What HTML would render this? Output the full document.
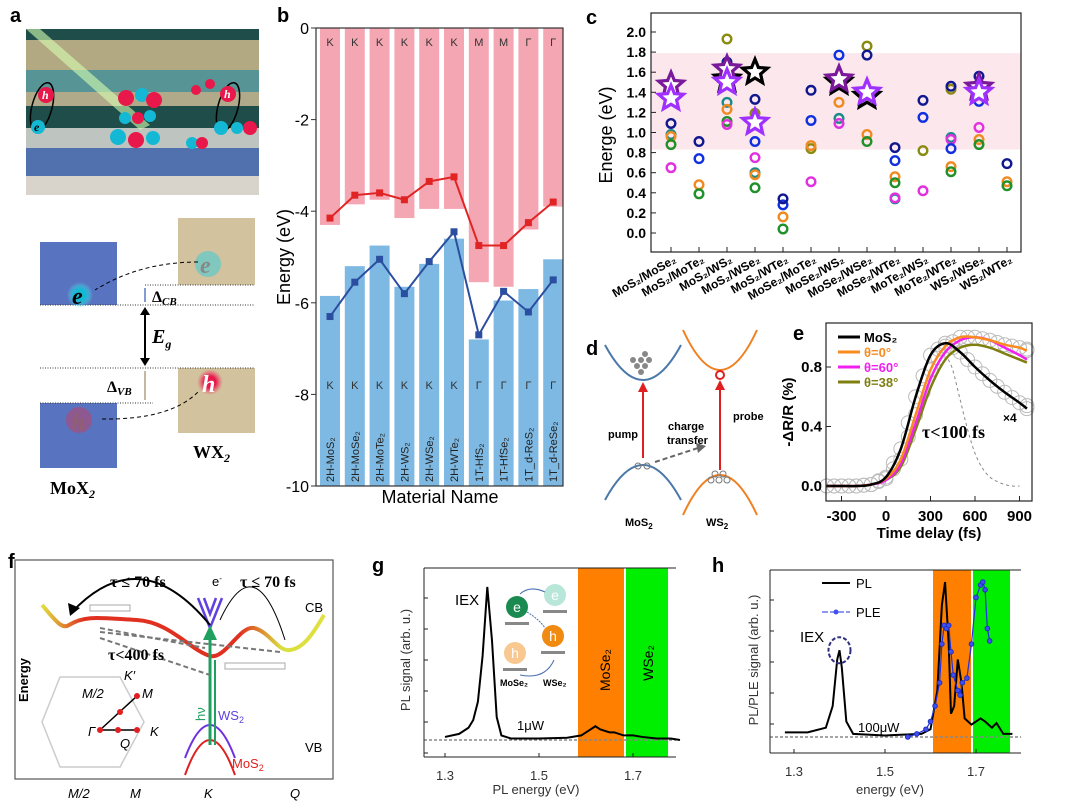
<!DOCTYPE html>
<html><head><meta charset="utf-8"><style>
body{margin:0;background:#fff}
svg{display:block;font-family:"Liberation Sans",sans-serif}
</style></head><body>
<svg id="s" width="1080" height="804" viewBox="0 0 1080 804" xmlns="http://www.w3.org/2000/svg">
<defs>
<radialGradient id="gE"><stop offset="0.45" stop-color="#13b9d4"/><stop offset="1" stop-color="#5ee0f0" stop-opacity="0"/></radialGradient>
<radialGradient id="gH"><stop offset="0.45" stop-color="#e8184a"/><stop offset="1" stop-color="#f05070" stop-opacity="0"/></radialGradient>
<linearGradient id="cbg" x1="0" x2="1"><stop offset="0" stop-color="#e0e040"/><stop offset="0.15" stop-color="#e03020"/><stop offset="0.7" stop-color="#e03020"/><stop offset="0.85" stop-color="#d8e040"/><stop offset="1" stop-color="#e0e040"/></linearGradient>
</defs>
<g font-weight="bold" font-size="20">
<text x="10" y="22">a</text><text x="277" y="22">b</text><text x="586" y="24">c</text><text x="586" y="355">d</text><text x="793" y="340">e</text><text x="8" y="568">f</text><text x="372" y="572">g</text><text x="712" y="572">h</text>
</g>

<g>
<rect x="26" y="29" width="233" height="166" fill="#1e4d4a"/>
<rect x="26" y="40" width="233" height="30" fill="#cdb88c" opacity="0.85"/>
<rect x="26" y="70" width="233" height="22" fill="#7cc4c8" opacity="0.6"/>
<rect x="26" y="92" width="233" height="14" fill="#d6c29a" opacity="0.8"/>
<rect x="26" y="128" width="233" height="20" fill="#e6e2dc" opacity="0.8"/>
<rect x="26" y="148" width="233" height="28" fill="#5a78c0" opacity="0.85"/>
<rect x="26" y="176" width="233" height="19" fill="#d8d4cc"/>
<polygon points="26,29 40,29 150,125 140,130" fill="#d6ffb0" opacity="0.6"/>
<ellipse cx="42" cy="107" rx="10" ry="25" fill="none" stroke="#000" stroke-width="1.5" transform="rotate(15 42 107)"/>
<ellipse cx="228" cy="107" rx="10" ry="25" fill="none" stroke="#000" stroke-width="1.5" transform="rotate(15 228 107)"/>
<g font-style="italic" font-weight="bold" font-family="Liberation Serif" fill="#fff" font-size="12">
<circle cx="46" cy="95" r="8" fill="#e8184a"/><text x="42" y="99">h</text>
<circle cx="38" cy="127" r="7" fill="#13b9d4"/><text x="34" y="131" fill="#000">e</text>
<circle cx="126" cy="98" r="8" fill="#e8184a"/><circle cx="142" cy="95" r="7" fill="#13b9d4"/><circle cx="154" cy="100" r="8" fill="#e8184a"/>
<circle cx="125" cy="118" r="6" fill="#13b9d4"/><circle cx="138" cy="118" r="6" fill="#e8184a"/><circle cx="150" cy="116" r="6" fill="#13b9d4"/>
<circle cx="118" cy="137" r="8" fill="#13b9d4"/><circle cx="136" cy="140" r="8" fill="#e8184a"/><circle cx="153" cy="138" r="7" fill="#13b9d4"/>
<circle cx="228" cy="94" r="8" fill="#e8184a"/><text x="224" y="98">h</text>
<circle cx="221" cy="128" r="7" fill="#13b9d4"/><circle cx="237" cy="128" r="6" fill="#13b9d4"/><circle cx="250" cy="128" r="7" fill="#e8184a"/>
<circle cx="196" cy="90" r="5" fill="#e8184a"/><circle cx="210" cy="84" r="5" fill="#e8184a"/>
<circle cx="192" cy="143" r="6" fill="#13b9d4"/><circle cx="202" cy="143" r="6" fill="#e8184a"/>
</g>
<rect x="40" y="242" width="77" height="63" fill="#5874c0"/>
<rect x="40" y="403" width="77" height="65" fill="#5874c0"/>
<rect x="178" y="218" width="77" height="67" fill="#d2c29e"/>
<rect x="178" y="368" width="77" height="65" fill="#d2c29e"/>
<g stroke="#333" stroke-dasharray="1,1.5" stroke-width="1">
<line x1="145" y1="285" x2="255" y2="285"/><line x1="40" y1="305" x2="255" y2="305"/>
<line x1="40" y1="368" x2="255" y2="368"/><line x1="40" y1="403" x2="153" y2="403"/></g>
<circle cx="80" cy="295" r="13" fill="url(#gE)"/><circle cx="208" cy="264" r="13" fill="#6bc9c4" opacity="0.8"/>
<circle cx="79" cy="420" r="13" fill="#b04870" opacity="0.6"/><circle cx="210" cy="382" r="13" fill="url(#gH)"/>
<g font-family="Liberation Serif" font-style="italic" font-weight="bold" font-size="24">
<text x="72" y="304" fill="#000">e</text><text x="200" y="273" fill="#888">e</text>
<text x="72" y="430" fill="#906070">h</text><text x="202" y="392" fill="#fff">h</text></g>
<path d="M198,262 Q140,262 95,290" fill="none" stroke="#000" stroke-dasharray="4,3"/>
<path d="M102,419 Q170,420 198,392" fill="none" stroke="#000" stroke-dasharray="4,3"/>
<line x1="145" y1="288" x2="145" y2="302" stroke="#5a7ac0" stroke-width="1.5"/>
<line x1="145" y1="309" x2="145" y2="364" stroke="#000" stroke-width="2"/>
<polygon points="140,315 145,307 150,315" fill="#000"/><polygon points="140,358 145,366 150,358" fill="#000"/>
<line x1="145" y1="371" x2="145" y2="400" stroke="#b0a080" stroke-width="1.5"/>
<g font-family="Liberation Serif" font-weight="bold">
<text x="152" y="302" font-size="16">Δ<tspan font-size="11" font-style="italic" dy="3">CB</tspan></text>
<text x="152" y="343" font-size="20" font-style="italic">E<tspan font-size="12" dy="5">g</tspan></text>
<text x="107" y="392" font-size="16">Δ<tspan font-size="11" font-style="italic" dy="3">VB</tspan></text>
<text x="193" y="458" font-size="18">WX<tspan font-size="12" font-style="italic" dy="4">2</tspan></text>
<text x="50" y="494" font-size="18">MoX<tspan font-size="12" font-style="italic" dy="4">2</tspan></text></g>
</g>

<g id="pb"></g>
<g id="pc"></g>

<g>
<path d="M605,345 Q643,415 681,345" fill="none" stroke="#4a78a8" stroke-width="2"/>
<path d="M605,500 Q643,430 681,500" fill="none" stroke="#4a78a8" stroke-width="2"/>
<path d="M683,330 Q720,410 757,330" fill="none" stroke="#f08020" stroke-width="2"/>
<path d="M683,515 Q720,435 757,515" fill="none" stroke="#f08020" stroke-width="2"/>
<g fill="#888"><circle cx="637" cy="366" r="3"/><circle cx="645" cy="366" r="3"/><circle cx="641" cy="360" r="3"/><circle cx="649" cy="360" r="3"/><circle cx="633" cy="360" r="3"/><circle cx="641" cy="372" r="3"/><circle cx="645" cy="354" r="3"/></g>
<g fill="none" stroke="#777"><circle cx="638" cy="466" r="3"/><circle cx="647" cy="466" r="3"/><circle cx="711" cy="480" r="3"/><circle cx="719" cy="480" r="3"/><circle cx="727" cy="480" r="3"/><circle cx="715" cy="474" r="3"/><circle cx="723" cy="474" r="3"/></g>
<line x1="643" y1="458" x2="643" y2="390" stroke="#e02020" stroke-width="2"/><polygon points="638,392 643,382 648,392" fill="#e02020"/>
<line x1="720" y1="470" x2="720" y2="388" stroke="#e02020" stroke-width="2"/><polygon points="715,390 720,380 725,390" fill="#e02020"/>
<circle cx="720" cy="375" r="4" fill="none" stroke="#e02020" stroke-width="2"/>
<line x1="655" y1="462" x2="698" y2="448" stroke="#666" stroke-width="2" stroke-dasharray="5,3"/><polygon points="696,443 706,446 698,453" fill="#666"/>
<g font-size="11" font-weight="bold"><text x="608" y="438">pump</text><text x="733" y="420">probe</text><text x="668" y="430">charge</text><text x="667" y="444">transfer</text>
<text x="625" y="526">MoS<tspan font-size="8" dy="3">2</tspan></text><text x="706" y="526">WS<tspan font-size="8" dy="3">2</tspan></text></g>
</g>

<g id="pe"></g>

<g>
<rect x="15" y="560" width="318" height="219" fill="none" stroke="#555" stroke-width="1.2"/>
<text x="28" y="680" font-size="13" font-weight="bold" transform="rotate(-90 28 680)" text-anchor="middle">Energy</text>
<path d="M42,605 C55,620 62,630 69,625 C85,615 100,618 137,620 C170,622 190,650 210,656 C225,660 240,625 254,628 C270,632 278,652 290,650 C305,648 315,630 324,615" fill="none" stroke="url(#cbg)" stroke-width="4"/>
<path d="M198,598 L210,628 L222,598 M204,598 L210,614 L216,598" fill="none" stroke="#6040e0" stroke-width="2.5"/>
<path d="M185,775 Q210,705 235,775" fill="none" stroke="#e02020" stroke-width="2"/>
<path d="M185,758 Q210,692 235,758" fill="none" stroke="#7030e0" stroke-width="2"/>
<line x1="210" y1="745" x2="210" y2="632" stroke="#20a060" stroke-width="3"/><polygon points="203,640 210,625 217,640" fill="#20a060"/>
<line x1="215" y1="745" x2="215" y2="660" stroke="#20a060" stroke-width="2"/>
<path d="M210,625 Q140,540 72,612" fill="none" stroke="#000" stroke-width="2"/><polygon points="68,603 70,616 80,608" fill="#000"/>
<path d="M220,620 Q255,545 285,640" fill="none" stroke="#000" stroke-width="1"/>
<g stroke="#777" stroke-width="2" stroke-dasharray="5,3"><line x1="100" y1="628" x2="205" y2="648"/><line x1="100" y1="632" x2="280" y2="652"/><line x1="100" y1="638" x2="210" y2="675"/></g>
<rect x="90" y="605" width="40" height="6" fill="none" stroke="#aaa"/><rect x="225" y="663" width="60" height="6" fill="none" stroke="#aaa"/>
<polygon points="96,677 120,677 144,722 120,767 60,767 42,722 60,677" fill="none" stroke="#ccc" stroke-width="1.5"/>
<g stroke="#000" stroke-width="1.5"><line x1="100" y1="730" x2="137" y2="730"/><line x1="100" y1="730" x2="137" y2="696"/></g>
<g fill="#e02020"><circle cx="100" cy="730" r="3"/><circle cx="137" cy="730" r="3"/><circle cx="137" cy="696" r="3"/><circle cx="120" cy="712" r="3"/><circle cx="118" cy="730" r="3"/></g>
<g font-family="Liberation Serif" font-weight="bold" font-size="16"><text x="110" y="587">τ ≤ 70 fs</text><text x="240" y="587">τ ≤ 70 fs</text><text x="108" y="660">τ&lt;400 fs</text></g>
<g font-size="13"><text x="212" y="586">e<tspan font-size="8" dy="-5">-</tspan></text><text x="305" y="612">CB</text><text x="305" y="752">VB</text>
<text x="188" y="720" fill="#20a060" transform="rotate(-90 197 712)">hν</text>
<text x="218" y="720" fill="#6040e0">WS<tspan font-size="9" dy="3">2</tspan></text><text x="232" y="768" fill="#e02020">MoS<tspan font-size="9" dy="3">2</tspan></text>
<g font-style="italic"><text x="124" y="680">K′</text><text x="82" y="698">M/2</text><text x="142" y="698">M</text><text x="88" y="736">Γ</text><text x="150" y="736">K</text><text x="120" y="748">Q</text>
<text x="68" y="798">M/2</text><text x="130" y="798">M</text><text x="204" y="798">K</text><text x="290" y="798">Q</text></g></g>
</g>

<g id="pg"></g>
<g id="ph"></g>
</svg>
<script>
const NS='http://www.w3.org/2000/svg';
function mk(p,tag,at,txt){const e=document.createElementNS(NS,tag);for(const k in at)e.setAttribute(k,at[k]);if(txt!==undefined)e.textContent=txt;p.appendChild(e);return e;}
function smooth(pts){let d='M'+pts[0][0]+','+pts[0][1];for(let i=0;i<pts.length-1;i++){const p0=pts[Math.max(i-1,0)],p1=pts[i],p2=pts[i+1],p3=pts[Math.min(i+2,pts.length-1)];d+=' C'+(p1[0]+(p2[0]-p0[0])/6)+','+(p1[1]+(p2[1]-p0[1])/6)+' '+(p2[0]-(p3[0]-p1[0])/6)+','+(p2[1]-(p3[1]-p1[1])/6)+' '+p2[0]+','+p2[1];}return d;}

const bMaterials=['2H-MoS₂','2H-MoSe₂','2H-MoTe₂','2H-WS₂','2H-WSe₂','2H-WTe₂','1T-HfS₂','1T-HfSe₂','1T_d-ReS₂','1T_d-ReSe₂'];
const bCbPoint=['K','K','K','K','K','K','M','M','Γ','Γ'];
const bVbPoint=['K','K','K','K','K','K','Γ','Γ','Γ','Γ'];
const bCbBottom=[-4.3,-3.85,-3.75,-4.15,-3.95,-3.95,-5.55,-5.65,-4.4,-3.9];
const bVbTop=[-5.85,-5.2,-4.75,-5.65,-5.15,-4.6,-6.8,-5.95,-5.7,-5.05];
const bCbLine=[-4.15,-3.65,-3.6,-3.75,-3.35,-3.25,-4.75,-4.75,-4.25,-3.8];
const bVbLine=[-6.3,-5.55,-5.05,-5.8,-5.1,-4.45,-6.7,-5.75,-6.2,-5.5];
const bTicks=[0,-2,-4,-6,-8,-10];
(function(){
const g=document.getElementById('pb');
const X=i=>330+i*24.8, Y=v=>28+(-v)*45.8;
bMaterials.forEach((m,i)=>{
 let r=mk(g,'rect',{x:X(i)-10,y:Y(0),width:20,height:Y(bCbBottom[i])-Y(0),fill:'#f4a7b3'});
 
 
 r=mk(g,'rect',{x:X(i)-10,y:Y(bVbTop[i]),width:20,height:Y(-10)-Y(bVbTop[i]),fill:'#7db9e3'});
 
 
 mk(g,'text',{x:X(i),y:46,'font-size':11,'text-anchor':'middle',fill:'#333'},bCbPoint[i]);
 mk(g,'text',{x:X(i),y:389,'font-size':11,'text-anchor':'middle',fill:'#333'},bVbPoint[i]);
 const t=mk(g,'text',{x:X(i)+4,y:482,'font-size':11,fill:'#222',transform:'rotate(-90 '+(X(i)+4)+' 482)'},m);
 
 
});
[[bCbLine,'#e02424'],[bVbLine,'#2b4ea0']].forEach(([arr,c],k)=>{
 const l=mk(g,'polyline',{points:arr.map((v,i)=>X(i)+','+Y(v)).join(' '),fill:'none',stroke:c,'stroke-width':2});
 
 
 arr.forEach((v,i)=>mk(g,'rect',{x:X(i)-3.5,y:Y(v)-3.5,width:7,height:7,fill:c}));
});
mk(g,'rect',{x:316,y:28,width:247,height:458,fill:'none',stroke:'#333','stroke-width':1.2});
bTicks.forEach(t=>{mk(g,'line',{x1:311,x2:316,y1:Y(t),y2:Y(t),stroke:'#333'});mk(g,'text',{x:309,y:Y(t)+6,'font-size':16,'text-anchor':'end'},t);});
mk(g,'text',{x:290,y:257,'font-size':18,'text-anchor':'middle',transform:'rotate(-90 290 257)'},'Energy (eV)');
mk(g,'text',{x:440,y:503,'font-size':18,'text-anchor':'middle'},'Material Name');
})();

const cPairs=['MoS₂/MoSe₂','MoS₂/MoTe₂','MoS₂/WS₂','MoS₂/WSe₂','MoS₂/WTe₂','MoSe₂/MoTe₂','MoSe₂/WS₂','MoSe₂/WSe₂','MoSe₂/WTe₂','MoTe₂/WS₂','MoTe₂/WTe₂','WS₂/WSe₂','WS₂/WTe₂'];
const cTicks=[0,0.2,0.4,0.6,0.8,1.0,1.2,1.4,1.6,1.8,2.0];
const cNavy=[1.09,0.91,1.70,1.33,0.34,1.42,null,1.77,0.85,1.32,1.46,1.56,0.69];
const cBlue=[null,0.74,null,0.91,0.28,1.12,1.77,null,0.72,1.15,0.84,1.31,null];
const cOrange=[0.96,0.48,1.23,0.58,0.16,0.87,1.30,0.98,0.56,null,0.66,0.93,0.51];
const cGreen=[0.88,0.39,1.11,0.45,0.04,null,null,0.91,0.50,null,0.61,0.88,0.47];
const cMagenta=[0.65,null,1.08,0.75,null,0.51,1.09,null,0.35,0.42,0.93,1.05,null];
const cOlive=[null,null,1.93,1.19,null,0.84,null,1.86,null,0.82,1.43,null,null];
const cTeal=[0.98,null,1.30,0.60,null,null,1.14,null,0.34,null,0.95,null,null];
const cStarPurple=[1.47,null,1.63,null,null,null,1.53,null,null,null,null,1.45,null];
const cStarViolet=[1.34,null,1.50,1.10,null,null,null,1.40,null,null,null,1.40,null];
const cStarBlack=[null,null,1.53,1.60,null,null,1.50,1.36,null,null,null,null,null];
(function(){
const g=document.getElementById('pc');
const X=i=>671+i*28, Y=v=>233-v*100.5;
mk(g,'rect',{x:651,y:Y(1.79),width:370,height:Y(0.83)-Y(1.79),fill:'#fce8ec'});
const circ=[[cTeal,'#1a8a8a'],[cOlive,'#8a8a10'],[cOrange,'#f08a20'],[cGreen,'#20902a'],[cMagenta,'#e030e0'],[cBlue,'#1030e0'],[cNavy,'#101890']];
circ.forEach(([arr,c])=>arr.forEach((v,i)=>{if(v===null)return;
 const e=mk(g,'circle',{cx:X(i),cy:Y(v),r:4.3,fill:'none',stroke:c,'stroke-width':2.4});
 
 }));
function star(cx,cy,R,c){const p=[];for(let k=0;k<10;k++){const a=-Math.PI/2+k*Math.PI/5,r=k%2?R*0.45:R;p.push((cx+r*Math.cos(a)).toFixed(1)+','+(cy+r*Math.sin(a)).toFixed(1));}return mk(g,'polygon',{points:p.join(' '),fill:'#fff',stroke:c,'stroke-width':3.2});}
[[cStarBlack,'#000'],[cStarPurple,'#7a1a9a'],[cStarViolet,'#a030ff']].forEach(([arr,c])=>arr.forEach((v,i)=>{if(v===null)return;
 const s=star(X(i),Y(v),13,c);
 
 }));
mk(g,'rect',{x:651,y:13,width:370,height:239,fill:'none',stroke:'#222','stroke-width':1.2});
cTicks.forEach(t=>{mk(g,'line',{x1:651,x2:656,y1:Y(t),y2:Y(t),stroke:'#222'});mk(g,'text',{x:646,y:Y(t)+5,'font-size':14,'font-weight':'bold','text-anchor':'end'},t.toFixed(1));});
cPairs.forEach((p,i)=>{mk(g,'line',{x1:X(i),x2:X(i),y1:252,y2:247,stroke:'#222'});
 mk(g,'text',{x:X(i)+6,y:262,'font-size':12,'font-weight':'bold','text-anchor':'end',transform:'rotate(-30 '+(X(i)+6)+' 262)'},p);});
mk(g,'text',{x:612,y:135,'font-size':18,'text-anchor':'middle',transform:'rotate(-90 612 135)'},'Energe (eV)');
})();

const eTime=[-400,-300,-200,-100,0,100,200,300,400,500,600,700,800,900,950];
const eMoS2=[0,0,0,0.01,0.06,0.25,0.6,0.88,0.96,0.90,0.80,0.71,0.63,0.56,0.52];
const eTheta0=[0,0,0,0.01,0.05,0.18,0.48,0.78,0.94,1.0,1.0,0.98,0.95,0.93,0.91];
const eTheta60=[0,0,0,0.01,0.04,0.15,0.42,0.72,0.90,0.98,1.0,0.98,0.93,0.88,0.85];
const eTheta38=[0,0,0,0.01,0.04,0.13,0.38,0.66,0.85,0.93,0.95,0.93,0.89,0.85,0.83];
const eDashT=[420,450,500,550,600,650,700,750,800,850,900];
const eDashV=[0.85,0.78,0.58,0.38,0.22,0.12,0.06,0.03,0.01,0,0];
const eTicksX=[-300,0,300,600,900];
const eTicksY=[0,0.4,0.8];
(function(){
const g=document.getElementById('pe');
const X=t=>886+t*44.5/300, Y=v=>486-v*148.75;
[eTheta0,eMoS2].forEach(arr=>arr.forEach((v,i)=>{mk(g,'circle',{cx:X(eTime[i]),cy:Y(v),r:7,fill:'none',stroke:'#bbb'});if(i<eTime.length-1)mk(g,'circle',{cx:X(eTime[i]+50),cy:Y((v+arr[i+1])/2),r:7,fill:'none',stroke:'#bbb'});}));
mk(g,'path',{d:smooth(eDashT.map((t,i)=>[X(t),Y(eDashV[i])])),fill:'none',stroke:'#888','stroke-dasharray':'3,3'});
const ser=[[eTheta38,'#7f7f10','theta-38-curve'],[eTheta60,'#f020f0','theta-60-curve'],[eTheta0,'#f88a1e','theta-0-curve'],[eMoS2,'#000','mos2-curve']];
ser.forEach(([arr,c,n])=>{const p=mk(g,'path',{d:smooth(eTime.map((t,i)=>[X(t),Y(arr[i])])),fill:'none',stroke:c,'stroke-width':2.5});
 
 });
mk(g,'rect',{x:826,y:323,width:206,height:178,fill:'none',stroke:'#222','stroke-width':1.2});
eTicksX.forEach(t=>{mk(g,'line',{x1:X(t),x2:X(t),y1:501,y2:496,stroke:'#222'});mk(g,'text',{x:X(t),y:521,'font-size':15,'font-weight':'bold','text-anchor':'middle'},t);});
eTicksY.forEach(t=>{mk(g,'line',{x1:826,x2:831,y1:Y(t),y2:Y(t),stroke:'#222'});mk(g,'text',{x:822,y:Y(t)+5,'font-size':15,'font-weight':'bold','text-anchor':'end'},t.toFixed(1));});
mk(g,'text',{x:929,y:538,'font-size':15,'font-weight':'bold','text-anchor':'middle'},'Time delay (fs)');
mk(g,'text',{x:793,y:412,'font-size':15,'font-weight':'bold','text-anchor':'middle',transform:'rotate(-90 793 412)'},'-ΔR/R (%)');
const leg=[['MoS₂','#000'],['θ=0°','#f88a1e'],['θ=60°','#f020f0'],['θ=38°','#7f7f10']];
leg.forEach(([t,c],i)=>{const y=337+i*15;mk(g,'line',{x1:838,x2:860,y1:y,y2:y,stroke:c,'stroke-width':3});
 const tx=mk(g,'text',{x:864,y:y+5,'font-size':13,'font-weight':'bold',fill:c},t);
 
 });
mk(g,'text',{x:922,y:438,'font-size':18,'font-weight':'bold','font-family':'Liberation Serif'},'τ<100 fs');
mk(g,'text',{x:1003,y:422,'font-size':12,'font-weight':'bold'},'×4');
})();

const gEnergy=[1.30,1.33,1.35,1.36,1.37,1.38,1.39,1.40,1.41,1.42,1.44,1.50,1.56,1.59,1.61,1.62,1.63,1.65,1.66,1.68,1.70,1.72,1.75,1.78,1.80];
const gSignal=[0.02,0.04,0.08,0.13,0.25,0.55,1.0,0.65,0.15,0.03,0.01,0.01,0.015,0.03,0.07,0.09,0.07,0.05,0.05,0.03,0.03,0.02,0.01,0.01,0.0];
const gTicks=[1.3,1.5,1.7];
const hEnergy=[1.28,1.33,1.37,1.385,1.395,1.40,1.405,1.415,1.43,1.50,1.58,1.60,1.615,1.625,1.632,1.64,1.645,1.652,1.66,1.668,1.675,1.69,1.71,1.72,1.735,1.745,1.76,1.78];
const hPL=[0.03,0.03,0.06,0.2,0.5,0.56,0.45,0.1,0.02,0.01,0.02,0.05,0.3,0.85,1.0,0.6,0.15,0.2,0.5,0.35,0.12,0.08,0.12,0.1,0.06,0.09,0.02,0.02];
const hPleEnergy=[1.55,1.57,1.59,1.60,1.61,1.62,1.625,1.63,1.635,1.64,1.645,1.65,1.66,1.665,1.67,1.68,1.69,1.70,1.71,1.715,1.72,1.725,1.73];
const hPLE=[0,0.02,0.05,0.1,0.2,0.35,0.6,0.72,0.7,0.72,0.55,0.4,0.3,0.27,0.35,0.38,0.6,0.9,0.98,1.0,0.95,0.7,0.62];
const hTicks=[1.3,1.5,1.7];
function specFrame(g,x0,x1,y0,y1,X,ticks,orange,green,base){
 mk(g,'rect',{x:orange[0],y:y0,width:orange[1]-orange[0],height:y1-y0,fill:'#ff7f00'});
 mk(g,'rect',{x:green[0],y:y0,width:green[1]-green[0],height:y1-y0,fill:'#00ee00'});
 mk(g,'line',{x1:x0,x2:x1,y1:base,y2:base,stroke:'#888','stroke-dasharray':'3,2','stroke-width':1.5});
 mk(g,'line',{x1:x0,x2:x1,y1:y0,y2:y0,stroke:'#222'});mk(g,'line',{x1:x0,x2:x1,y1:y1,y2:y1,stroke:'#222'});
 mk(g,'line',{x1:x0,x2:x0,y1:y0,y2:y1,stroke:'#222'});
 for(let y=y0+30;y<y1;y+=31)mk(g,'line',{x1:x0,x2:x0+4,y1:y,y2:y,stroke:'#222'});
 ticks.forEach(t=>{mk(g,'line',{x1:X(t),x2:X(t),y1:y1,y2:y1-4,stroke:'#222'});mk(g,'text',{x:X(t),y:y1+23,'font-size':13,'text-anchor':'middle',fill:'#333'},t.toFixed(1));});
}
(function(){
const g=document.getElementById('pg');
const X=e=>445+(e-1.3)*470, Y=v=>740-v*153;
specFrame(g,424,676,568,757,X,gTicks,[578,624],[626,668],740);
const p=mk(g,'polyline',{points:gEnergy.map((e,i)=>X(e)+','+Y(gSignal[i])).join(' '),fill:'none',stroke:'#000','stroke-width':2});


mk(g,'text',{x:455,y:605,'font-size':15},'IEX');mk(g,'text',{x:517,y:730,'font-size':13},'1μW');
mk(g,'text',{x:610,y:670,'font-size':14,transform:'rotate(-90 610 670)','text-anchor':'middle'},'MoSe₂');
mk(g,'text',{x:653,y:663,'font-size':14,transform:'rotate(-90 653 663)','text-anchor':'middle'},'WSe₂');
mk(g,'text',{x:536,y:794,'font-size':13,'text-anchor':'middle',fill:'#333'},'PL energy (eV)');
mk(g,'text',{x:410,y:660,'font-size':13,'text-anchor':'middle',transform:'rotate(-90 410 660)',fill:'#333'},'PL signal (arb. u.)');
[[517,607,'#1b8a50','e','#fff'],[555,595,'#b8e6d8','e','#fff'],[515,653,'#f8c890','h','#fff'],[553,636,'#f08a10','h','#fff']].forEach(([cx,cy,c,t,tc])=>{mk(g,'circle',{cx,cy,r:11,fill:c});mk(g,'text',{x:cx,y:cy+5,'font-size':14,'text-anchor':'middle',fill:tc},t);mk(g,'rect',{x:cx-12,y:cy+15,width:24,height:3,fill:'#888'});});
mk(g,'path',{d:'M527,612 Q540,620 545,628',fill:'none',stroke:'#4a70b0','stroke-dasharray':'2,1'});
mk(g,'path',{d:'M545,592 Q530,585 520,594',fill:'none',stroke:'#4a70b0'});
mk(g,'path',{d:'M520,675 Q545,680 554,660',fill:'none',stroke:'#4a70b0'});
mk(g,'text',{x:500,y:686,'font-size':9,'font-weight':'bold'},'MoSe₂');mk(g,'text',{x:543,y:686,'font-size':9,'font-weight':'bold'},'WSe₂');
})();
(function(){
const g=document.getElementById('ph');
const X=e=>794+(e-1.3)*455, Y=v=>737-v*155;
specFrame(g,770,1021,570,753,X,hTicks,[933,971],[973,1010],737);
const p=mk(g,'polyline',{points:hEnergy.map((e,i)=>X(e)+','+Y(hPL[i])).join(' '),fill:'none',stroke:'#000','stroke-width':2});


const q=mk(g,'polyline',{points:hPleEnergy.map((e,i)=>X(e)+','+Y(hPLE[i])).join(' '),fill:'none',stroke:'#2030e0','stroke-width':1.2});


hPleEnergy.forEach((e,i)=>mk(g,'circle',{cx:X(e),cy:Y(hPLE[i]),r:2.3,fill:'#4050f0',stroke:'#2030c0'}));
mk(g,'ellipse',{cx:X(1.40),cy:Y(0.56),rx:11,ry:13,fill:'none',stroke:'#303080','stroke-width':2,'stroke-dasharray':'4,2'});
mk(g,'text',{x:800,y:642,'font-size':15},'IEX');mk(g,'text',{x:858,y:732,'font-size':13},'100μW');
mk(g,'line',{x1:822,x2:850,y1:583,y2:583,stroke:'#000','stroke-width':2});mk(g,'text',{x:856,y:588,'font-size':13},'PL');
mk(g,'line',{x1:822,x2:850,y1:612,y2:612,stroke:'#2030e0','stroke-dasharray':'6,2'});mk(g,'circle',{cx:836,cy:612,r:2.5,fill:'#4050f0'});mk(g,'text',{x:856,y:617,'font-size':13},'PLE');
mk(g,'text',{x:890,y:794,'font-size':13,'text-anchor':'middle',fill:'#333'},'energy (eV)');
mk(g,'text',{x:758,y:660,'font-size':13,'text-anchor':'middle',transform:'rotate(-90 758 660)',fill:'#333'},'PL/PLE signal (arb. u.)');
})();
</script>
</body></html>
